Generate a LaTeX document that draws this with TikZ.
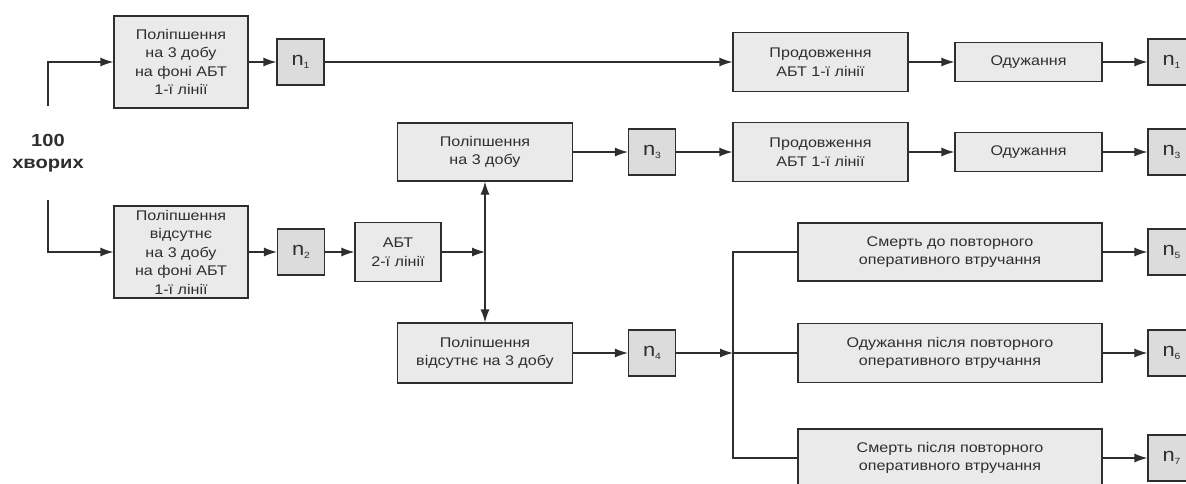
\documentclass[tikz,border=0pt]{standalone}
\usepackage{fontspec}
\setmainfont{Liberation Sans}[FakeStretch=1.15]
\usetikzlibrary{arrows.meta}
\definecolor{edge}{HTML}{2E2E2E}
\definecolor{boxfill}{HTML}{EAEAEA}
\definecolor{cntfill}{HTML}{DCDCDC}
\newcommand{\nsub}[1]{n\raisebox{-2.5pt}{\fontsize{9}{9}\selectfont #1}}

\begin{document}
\begin{tikzpicture}
  [x=1pt,y=-1pt,line width=1.2pt,color=edge,
   every node/.style={draw,fill=boxfill,inner sep=0pt,align=center,
     font=\fontsize{14}{18.5}\selectfont},
   cnt/.style={fill=cntfill,minimum width=47pt,minimum height=46pt,
     font=\fontsize{19}{22}\selectfont},
   arr/.style={-{Latex[length=13pt,width=9pt]}}]
  \useasboundingbox (0,0) rectangle (1186,483);
  \clip (0,0) rectangle (1186,483);

  \node (s0) at (48,153) [draw=none,fill=none,minimum height=92pt,
    font=\bfseries\fontsize{17.5}{22}\selectfont] {100\\хворих};

  \node (b1) at (181,62)  [minimum width=134pt,minimum height=92pt] {Поліпшення\\на 3 добу\\на фоні АБТ\\1-ї лінії};
  \node (b2) at (181,252) [minimum width=134pt,minimum height=92pt] {Поліпшення\\відсутнє\\на 3 добу\\на фоні АБТ\\1-ї лінії};
  \node (b3) at (398,252) [minimum width=86pt,minimum height=59pt] {АБТ\\2-ї лінії};
  \node (b4) at (485,152) [minimum width=175pt,minimum height=58pt] {Поліпшення\\на 3 добу};
  \node (b5) at (485,353) [minimum width=175pt,minimum height=60pt] {Поліпшення\\відсутнє на 3 добу};
  \node (b6) at (820.5,62)  [minimum width=175pt,minimum height=59pt] {Продовження\\АБТ 1-ї лінії};
  \node (b7) at (1028.5,62) [minimum width=147pt,minimum height=39pt] {Одужання};
  \node (b8) at (820.5,152) [minimum width=175pt,minimum height=59pt] {Продовження\\АБТ 1-ї лінії};
  \node (b9) at (1028.5,152) [minimum width=147pt,minimum height=39pt] {Одужання};
  \node (b10) at (950,252) [minimum width=304pt,minimum height=58pt] {Смерть до повторного\\оперативного втручання};
  \node (b11) at (950,353) [minimum width=304pt,minimum height=59pt] {Одужання після повторного\\оперативного втручання};
  \node (b12) at (950,458) [minimum width=304pt,minimum height=58pt] {Смерть після повторного\\оперативного втручання};

  \node (c1) at (300.5,62) [cnt] {\nsub{1}};
  \node (c2) at (301,252)  [cnt] {\nsub{2}};
  \node (c3) at (652,152)  [cnt] {\nsub{3}};
  \node (c4) at (652,353)  [cnt] {\nsub{4}};
  \node (c1b) at (1171.5,62)  [cnt] {\nsub{1}};
  \node (c3b) at (1171.5,152) [cnt] {\nsub{3}};
  \node (c5) at (1171.5,252)  [cnt] {\nsub{5}};
  \node (c6) at (1171.5,353)  [cnt] {\nsub{6}};
  \node (c7) at (1171.5,458)  [cnt] {\nsub{7}};

  \coordinate (j1) at (485,252);
  \coordinate (j2) at (733,353);

  \draw[arr] (s0.north) |- (b1.west);
  \draw[arr] (s0.south) |- (b2.west);
  \foreach \from/\to in {b1/c1,c1/b6,b6/b7,b7/c1b,b4/c3,c3/b8,b8/b9,b9/c3b,
      b2/c2,c2/b3,b3/j1,j1/b4,j1/b5,b5/c4,c4/j2,b10/c5,b11/c6,b12/c7}
    \draw[arr] (\from) -- (\to);
  \draw (j2) -- (b11);
  \draw (j2) |- (b10);
  \draw (j2) |- (b12);
\end{tikzpicture}
\end{document}
